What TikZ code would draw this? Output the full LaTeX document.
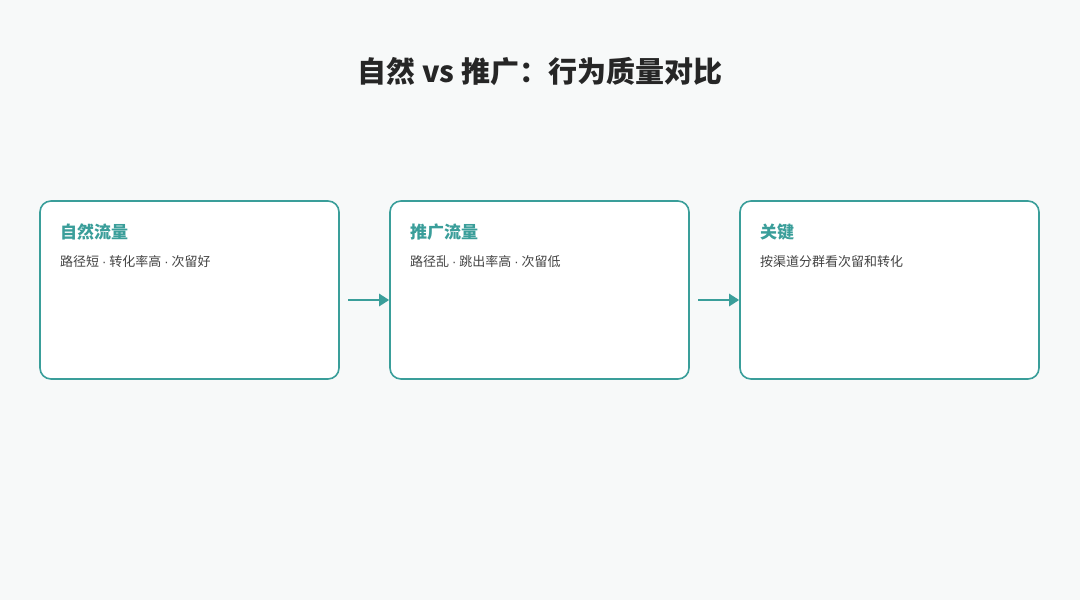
\documentclass[tikz,border=0pt]{standalone}
\usepackage{fontspec}
\setmainfont{Noto Sans CJK SC}
\newfontfamily\dotfont{Liberation Sans}
\newcommand{\dotsep}{ {\dotfont ·} }
\usetikzlibrary{positioning,arrows.meta}
\definecolor{teal}{HTML}{3A9E9A}
\definecolor{bgc}{HTML}{F7F9F9}
\definecolor{txt}{HTML}{444444}
\tikzset{
  card/.style={draw=teal, line width=1.6pt, fill=white, rounded corners=11pt,
    minimum width=299pt, minimum height=178pt, inner sep=0pt},
  head/.style={anchor=west, text=teal, font=\bfseries\fontsize{17}{20}\selectfont, inner sep=0pt},
  body/.style={anchor=west, text=txt, font=\fontsize{13}{15}\selectfont, inner sep=0pt},
  flow/.style={-{Triangle[length=10pt,width=12pt]}, draw=teal, line width=2.6pt}
}
\begin{document}
\begin{tikzpicture}[x=1pt,y=-1pt]
\fill[bgc] (0,0) rectangle (1080,600);
\useasboundingbox (0,0) rectangle (1080,600);
\node[font=\bfseries\fontsize{29}{34}\selectfont, text=black!85] (title) at (540,72) {自然 vs 推广：行为质量对比};
% cards
\node[card] (natural) at (189.5,290) {};
\node[card] (promo) at (539.5,290) {};
\node[card] (key) at (889.5,290) {};
\node[head] (naturalh) at (60,232) {自然流量};
\node[body] (naturalb) at (60,262) {路径短\dotsep 转化率高\dotsep 次留好};
\node[head] (promoh) at (410,232) {推广流量};
\node[body] (promob) at (410,262) {路径乱\dotsep 跳出率高\dotsep 次留低};
\node[head] (keyh) at (760,232) {关键};
\node[body] (keyb) at (760,262) {按渠道分群看次留和转化};
% arrows
\coordinate (a1) at (348,300);
\coordinate (a2) at (698,300);
\draw[flow] (a1) -- (promo.west |- a1);
\draw[flow] (a2) -- (key.west |- a2);
\end{tikzpicture}
\end{document}
